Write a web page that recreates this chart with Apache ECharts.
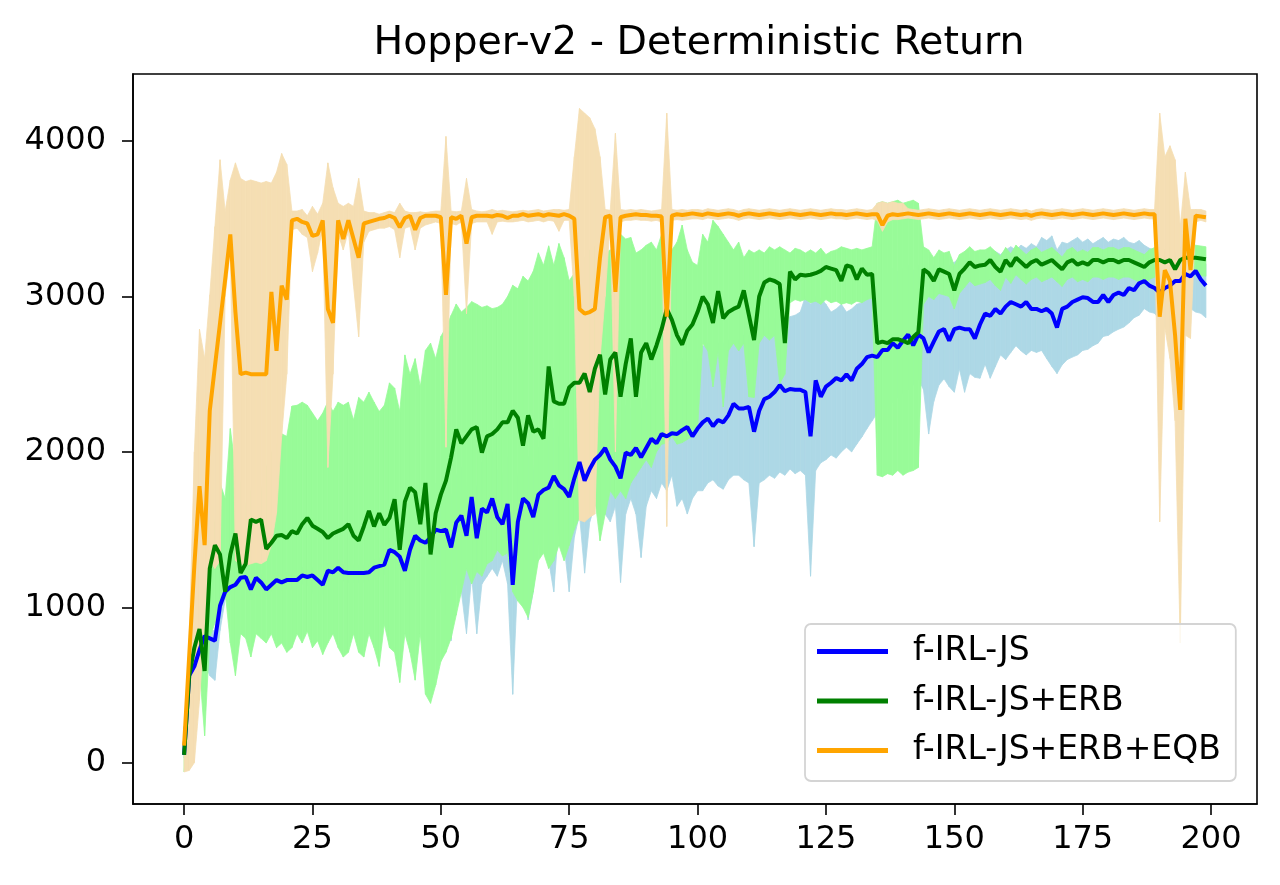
<!DOCTYPE html>
<html>
<head>
<meta charset="utf-8">
<script src="https://cdn.jsdelivr.net/npm/echarts@6/dist/echarts.min.js"></script>
<style>
  html, body { margin: 0; padding: 0; background: #fff; }
  #main { width: 1280px; height: 885px; }
</style>
</head>
<body>
<div id="main"></div>
<script>
// training iterations 0..199
var steps = [];
for (var s = 0; s < 200; s++) steps.push(s);

var xTicks = [0, 25, 50, 75, 100, 125, 150, 175, 200];
var yTicks = [0, 1000, 2000, 3000, 4000];

// f-IRL-JS
var jsMean = [
    50, 560, 620, 725, 815, 800, 785, 1010, 1100, 1130,
    1145, 1190, 1195, 1115, 1190, 1160, 1115, 1145, 1175, 1160,
    1175, 1175, 1175, 1205, 1195, 1205, 1175, 1145, 1235, 1225,
    1255, 1225, 1220, 1220, 1220, 1220, 1225, 1255, 1265, 1275,
    1370, 1355, 1325, 1235, 1370, 1460, 1430, 1415, 1450, 1500,
    1490, 1500, 1385, 1545, 1590, 1460, 1710, 1445, 1635, 1610,
    1700, 1580, 1535, 1665, 1145, 1550, 1700, 1670, 1580, 1725,
    1755, 1770, 1845, 1785, 1760, 1710, 1830, 1935, 1815, 1890,
    1950, 1980, 2025, 1950, 1905, 1830, 1995, 1980, 2025, 1965,
    2025, 2085, 2055, 2115, 2100, 2120, 2115, 2140, 2160, 2100,
    2150, 2190, 2215, 2165, 2205, 2190, 2235, 2310, 2280, 2280,
    2290, 2130, 2265, 2340, 2355, 2385, 2430, 2390, 2405, 2400,
    2400, 2385, 2100, 2460, 2355, 2420, 2445, 2475, 2460, 2500,
    2460, 2535, 2565, 2610, 2620, 2610, 2655, 2655, 2700, 2670,
    2715, 2755, 2685, 2755, 2730, 2640, 2710, 2775, 2790, 2715,
    2790, 2800, 2790, 2790, 2730, 2820, 2890, 2875, 2920, 2890,
    2935, 2965, 2950, 2935, 2965, 2920, 2920, 2905, 2920, 2890,
    2800, 2920, 2935, 2965, 2980, 2995, 2990, 2965, 2965, 3010,
    2965, 3010, 3025, 3010, 3055, 3040, 3085, 3100, 3070, 3055,
    3025, 3055, 3070, 3100, 3100, 3145, 3130, 3165, 3110, 3070
];
var jsLow = [
    30, 480, 540, 620, 650, 560, 530, 850, 1050, 1080,
    1100, 1140, 1150, 1070, 1140, 1110, 1070, 1100, 1120, 1110,
    1120, 1120, 1120, 1150, 1140, 1100, 1020, 1090, 1180, 1170,
    1200, 1170, 1160, 1160, 1160, 1160, 1170, 1200, 1200, 1210,
    1300, 1290, 1250, 1170, 1300, 1380, 1350, 1300, 900, 1000,
    1100, 950, 785, 1150, 1100, 830, 1200, 830, 1150, 1200,
    1250, 1200, 1300, 1150, 440, 1200, 1300, 920, 1100, 1400,
    1500, 1300, 1100, 1550, 1400, 1100, 1450, 1600, 1220, 1550,
    1650, 1700, 1600, 1550, 1650, 1160, 1600, 1700, 1600, 1320,
    1650, 1750, 1700, 1800, 1750, 1850, 1650, 1700, 1600, 1700,
    1750, 1750, 1800, 1820, 1780, 1760, 1820, 1850, 1850, 1820,
    1800, 1390, 1800, 1820, 1850, 1830, 1870, 1850, 1890, 1860,
    1880, 1850, 1200, 1880, 1930, 1950, 1980, 1960, 2000, 2030,
    2000, 2050, 2096, 2150, 2200, 2250, 2280, 2300, 2320, 2350,
    2380, 2400, 2430, 2470, 2400, 2115, 2325, 2430, 2470, 2420,
    2384, 2534, 2384, 2504, 2480, 2474, 2564, 2474, 2550, 2624,
    2594, 2640, 2683, 2650, 2624, 2653, 2640, 2653, 2600, 2550,
    2504, 2560, 2594, 2610, 2624, 2653, 2660, 2683, 2700, 2743,
    2750, 2773, 2790, 2803, 2830, 2863, 2880, 2922, 2900, 2892,
    2850, 2803, 2860, 2922, 2950, 2982, 2922, 2900, 2892, 2863
];
var jsHigh = [
    70, 620, 700, 800, 880, 850, 850, 1070, 1150, 1180,
    1195, 1240, 1245, 1165, 1240, 1210, 1165, 1195, 1225, 1210,
    1225, 1225, 1225, 1255, 1245, 1255, 1225, 1195, 1285, 1275,
    1305, 1275, 1270, 1270, 1270, 1270, 1275, 1305, 1315, 1325,
    1440, 1420, 1400, 1320, 1450, 1550, 1520, 1500, 1750, 1800,
    1790, 1800, 1700, 1850, 1900, 1760, 2010, 1750, 1935, 1910,
    2000, 1880, 1850, 1970, 1500, 1850, 2000, 1970, 1880, 2030,
    2060, 2070, 2150, 2090, 2060, 2010, 2130, 2240, 2120, 2190,
    2250, 2280, 2330, 2250, 2200, 2130, 2300, 2280, 2330, 2270,
    2330, 2400, 2450, 2400, 2500, 2550, 2500, 2600, 2580, 2620,
    2600, 2680, 2700, 2680, 2700, 2700, 2720, 2720, 2720, 2750,
    2750, 2700, 2780, 2800, 2860, 2860, 2850, 2850, 2870, 2880,
    2900, 3000, 2950, 3000, 2990, 2950, 2900, 2920, 2950, 2900,
    2920, 2950, 2960, 3000, 3050, 3150, 3170, 3150, 3180, 3160,
    3180, 3200, 3170, 3200, 3180, 3150, 3200, 3220, 3240, 3200,
    3220, 3250, 3230, 3250, 3220, 3260, 3280, 3260, 3290, 3270,
    3300, 3320, 3300, 3330, 3310, 3340, 3320, 3380, 3360, 3390,
    3300, 3350, 3340, 3360, 3380, 3350, 3370, 3340, 3360, 3380,
    3350, 3370, 3360, 3380, 3350, 3340, 3360, 3330, 3310, 3300,
    3280, 3290, 3270, 3280, 3300, 3260, 3250, 3240, 3230, 3210
];

// f-IRL-JS+ERB
var erbMean = [
    50, 560, 740, 860, 590, 1250, 1400, 1340, 1100, 1340,
    1475, 1220, 1280, 1565, 1550, 1565, 1375, 1415, 1460, 1465,
    1445, 1490, 1475, 1535, 1575, 1525, 1505, 1485, 1445, 1475,
    1490, 1505, 1535, 1460, 1430, 1520, 1620, 1520, 1605, 1530,
    1575, 1695, 1370, 1680, 1770, 1740, 1535, 1800, 1340, 1605,
    1725, 1815, 1965, 2145, 2055, 2100, 2145, 2160, 1995, 2100,
    2115, 2145, 2190, 2190, 2265, 2220, 2040, 2235, 2130, 2145,
    2085, 2550, 2325, 2310, 2310, 2415, 2445, 2445, 2505, 2385,
    2535, 2625, 2370, 2595, 2640, 2355, 2565, 2730, 2355, 2640,
    2700, 2595, 2685, 2790, 2920, 2850, 2750, 2690, 2780, 2820,
    2900, 3000, 2950, 2830, 3035, 2860, 2900, 2920, 2935, 3040,
    2880, 2720, 3000, 3090, 3110, 3100, 3080, 2700, 3160, 3110,
    3140, 3135, 3140, 3150, 3165, 3190, 3180, 3170, 3100, 3200,
    3190, 3110, 3180, 3140, 3145, 2700, 2710, 2700, 2725, 2725,
    2715, 2700, 2740, 2770, 3175, 3150, 3100, 3175, 3160, 3145,
    3040, 3145, 3180, 3220, 3190, 3200, 3205, 3235, 3190, 3160,
    3235, 3195, 3250, 3220, 3190, 3220, 3235, 3205, 3220, 3235,
    3205, 3175, 3220, 3235, 3205, 3220, 3205, 3235, 3235, 3220,
    3235, 3235, 3220, 3235, 3235, 3220, 3205, 3190, 3220, 3235,
    3235, 3220, 3235, 3175, 3235, 3250, 3250, 3250, 3245, 3240
];
var erbLow = [
    -60, 300, 450, 600, 173, 800, 900, 1000, 1100, 770,
    560, 830, 800, 680, 830, 800, 770, 830, 740, 770,
    710, 740, 830, 770, 845, 740, 785, 696, 770, 830,
    740, 680, 710, 830, 710, 680, 830, 740, 620, 890,
    740, 710, 516, 830, 710, 531, 830, 441, 382, 500,
    651, 711, 800, 950, 1100, 1249, 1150, 1230, 1200, 1279,
    1300, 1368, 1330, 1350, 1100, 1040, 1000, 935, 1100, 1300,
    1350, 1250, 1300, 1400, 1300, 1400, 1500, 1577, 1650, 1600,
    1700, 1428, 1600, 1750, 1700, 1750, 1700, 1800, 1850, 1900,
    1950, 1900, 2000, 2050, 2055, 2100, 2050, 2060, 2080, 2100,
    2150, 2700, 2650, 2420, 2650, 2290, 2650, 2700, 2650, 2700,
    2355, 2350, 2700, 2750, 2720, 2750, 2440, 2500, 2960, 2980,
    2970, 2980, 2960, 2970, 2950, 2980, 2960, 2970, 2950, 2960,
    2950, 2970, 2960, 2980, 2990, 1850, 1840, 1860, 1850, 1880,
    1850, 1870, 1880, 1900, 2950, 3000, 2980, 3020, 3010, 3000,
    2920, 3020, 3060, 3100, 3070, 3080, 3090, 3110, 3070, 3040,
    3125, 3085, 3140, 3110, 3080, 3110, 3125, 3095, 3110, 3125,
    3095, 3065, 3110, 3125, 3095, 3110, 3095, 3125, 3125, 3110,
    3125, 3125, 3110, 3125, 3125, 3110, 3095, 3080, 3110, 3125,
    3125, 3110, 3125, 3065, 3125, 3140, 3140, 3140, 3135, 3130
];
var erbHigh = [
    50, 650, 850, 1000, 1100, 1350, 1550, 1800, 1700, 2150,
    1900, 1800, 1650, 1750, 1950, 1750, 1900, 2000, 2050, 2116,
    2100, 2295, 2300, 2320, 2300, 2250, 2200, 2250, 2324, 2260,
    2320, 2300, 2320, 2205, 2350, 2320, 2384, 2320, 2260, 2300,
    2444, 2410, 2260, 2624, 2500, 2600, 2420, 2653, 2700, 2600,
    2743, 2800, 2878, 2952, 2900, 2930, 2967, 2950, 2930, 2940,
    2922, 2930, 2950, 3000, 3072, 3050, 3130, 3100, 3162, 3281,
    3200, 3326, 3200, 3341, 3250, 3102, 3150, 3200, 3250, 3300,
    3320, 3300, 3280, 3300, 3280, 3401, 3370, 3380, 3280, 3300,
    3330, 3350, 3300, 3400, 3250, 3300, 3350, 3460, 3300, 3220,
    3200, 3400, 3350, 3490, 3450, 3400, 3350, 3300, 3350, 3250,
    3300, 3280, 3300, 3280, 3320, 3300, 3320, 3300, 3280, 3310,
    3300, 3280, 3300, 3280, 3310, 3270, 3290, 3300, 3320, 3310,
    3300, 3310, 3300, 3310, 3320, 3600, 3610, 3600, 3610, 3620,
    3600, 3610, 3620, 3600, 3320, 3300, 3250, 3300, 3280, 3290,
    3200, 3270, 3290, 3320, 3290, 3300, 3300, 3320, 3290, 3260,
    3315, 3275, 3330, 3300, 3270, 3300, 3315, 3285, 3300, 3315,
    3285, 3255, 3300, 3315, 3285, 3300, 3285, 3315, 3315, 3300,
    3315, 3315, 3300, 3315, 3315, 3300, 3285, 3270, 3300, 3315,
    3315, 3300, 3315, 3255, 3315, 3330, 3330, 3330, 3325, 3320
];

// f-IRL-JS+ERB+EQB
var eqbMean = [
    110, 690, 1270, 1780, 1400, 2265, 2550, 2830, 3110, 3400,
    2900, 2500, 2510, 2500, 2500, 2500, 2500, 3030, 2650, 3070,
    2980, 3490, 3500, 3480, 3470, 3390, 3400, 3490, 2920, 2830,
    3490, 3370, 3490, 3370, 3250, 3470, 3480, 3490, 3500, 3505,
    3520, 3505, 3445, 3505, 3520, 3430, 3505, 3520, 3520, 3520,
    3510, 3010, 3510, 3500, 3520, 3340, 3510, 3520, 3520, 3520,
    3515, 3525, 3520, 3505, 3520, 3520, 3530, 3520, 3525, 3530,
    3520, 3530, 3525, 3520, 3530, 3520, 3500, 2920, 2890, 2900,
    2920, 3250, 3510, 3520, 3030, 3510, 3520, 3525, 3530, 3525,
    3525, 3520, 3520, 3515, 2870, 3520, 3530, 3525, 3530, 3535,
    3530, 3525, 3535, 3530, 3525, 3530, 3535, 3530, 3520, 3530,
    3535, 3530, 3525, 3530, 3535, 3530, 3525, 3530, 3535, 3530,
    3525, 3530, 3535, 3530, 3525, 3530, 3535, 3530, 3530, 3525,
    3530, 3535, 3530, 3525, 3530, 3530, 3460, 3520, 3530, 3525,
    3530, 3535, 3530, 3525, 3530, 3535, 3530, 3525, 3530, 3535,
    3530, 3525, 3530, 3535, 3530, 3525, 3530, 3535, 3530, 3525,
    3530, 3535, 3530, 3525, 3530, 3520, 3530, 3535, 3530, 3525,
    3530, 3535, 3530, 3525, 3530, 3535, 3530, 3525, 3530, 3535,
    3530, 3525, 3530, 3535, 3530, 3525, 3530, 3535, 3530, 3530,
    2870, 3170, 3100, 2750, 2270, 3500, 3170, 3520, 3515, 3510
];
var eqbLow = [
    -60, -50, 0, 400, 900, 1300, 1250, 1300, 3000, 3300,
    1300, 1280, 1270, 1280, 1290, 1280, 1300, 1400, 1607, 2100,
    2500, 3430, 3440, 3400, 3380, 3160, 3280, 3440, 1900, 2500,
    3400, 3300, 3420, 3070, 2740, 3350, 3420, 3430, 3440, 3440,
    3450, 3430, 3250, 3440, 3450, 3300, 3440, 3460, 3470, 3480,
    3470, 2030, 3470, 3460, 3480, 2890, 3470, 3480, 3480, 3480,
    3400, 3480, 3485, 3480, 3480, 3485, 3490, 3480, 3485, 3490,
    3480, 3490, 3485, 3420, 3490, 3490, 3000, 1560, 1550, 1580,
    1600, 2600, 3000, 3480, 2000, 3480, 3490, 3490, 3495, 3490,
    3490, 3485, 3490, 3480, 1520, 3490, 3495, 3490, 3495, 3500,
    3500, 3495, 3505, 3500, 3495, 3500, 3505, 3500, 3490, 3500,
    3505, 3500, 3495, 3500, 3505, 3500, 3495, 3500, 3505, 3500,
    3495, 3500, 3505, 3500, 3495, 3500, 3505, 3500, 3500, 3495,
    3500, 3505, 3500, 3495, 3500, 3490, 3420, 3480, 3495, 3495,
    3500, 3505, 3500, 3495, 3500, 3505, 3500, 3495, 3500, 3505,
    3500, 3495, 3500, 3505, 3500, 3495, 3500, 3505, 3500, 3495,
    3500, 3505, 3500, 3495, 3500, 3490, 3500, 3505, 3500, 3495,
    3500, 3505, 3500, 3495, 3500, 3505, 3500, 3495, 3500, 3505,
    3500, 3495, 3500, 3505, 3500, 3495, 3500, 3505, 3500, 3500,
    1550, 2800, 2600, 2200, 770, 2750, 2730, 3480, 3490, 3480
];
var eqbHigh = [
    120, 800, 2000, 2790, 2600, 3010, 3450, 3880, 3550, 3750,
    3860, 3760, 3740, 3750, 3740, 3730, 3740, 3730, 3800, 3920,
    3850, 3550, 3550, 3560, 3520, 3580, 3530, 3600, 3860, 3700,
    3600, 3580, 3600, 3580, 3760, 3550, 3540, 3540, 3530, 3540,
    3550, 3540, 3600, 3550, 3540, 3540, 3545, 3540, 3545, 3550,
    3550, 4030, 3550, 3545, 3550, 3760, 3560, 3550, 3545, 3550,
    3560, 3550, 3555, 3550, 3545, 3550, 3555, 3550, 3555, 3560,
    3550, 3555, 3560, 3560, 3555, 3560, 3900, 4210, 4180, 4150,
    4080, 3900, 3560, 3555, 4050, 3560, 3555, 3560, 3555, 3560,
    3555, 3550, 3555, 3560, 4180, 3560, 3555, 3560, 3555, 3560,
    3560, 3555, 3565, 3560, 3555, 3560, 3565, 3560, 3550, 3560,
    3565, 3560, 3555, 3560, 3565, 3560, 3555, 3560, 3565, 3560,
    3555, 3560, 3565, 3560, 3555, 3560, 3565, 3560, 3560, 3555,
    3560, 3565, 3560, 3555, 3560, 3600, 3610, 3600, 3610, 3600,
    3600, 3565, 3560, 3555, 3560, 3565, 3560, 3555, 3560, 3565,
    3560, 3555, 3560, 3565, 3560, 3555, 3560, 3565, 3560, 3555,
    3560, 3565, 3560, 3555, 3560, 3550, 3560, 3565, 3560, 3555,
    3560, 3565, 3560, 3555, 3560, 3565, 3560, 3555, 3560, 3565,
    3560, 3555, 3560, 3565, 3560, 3555, 3560, 3565, 3560, 3560,
    4180, 3900, 3970, 3880, 3450, 3800, 3560, 3560, 3560, 3550
];

var font = 'DejaVu Sans';

function pairs(vals) {
    return steps.map(function (x, i) { return [x, vals[i]]; });
}

// shaded band: one quad per step, mapped through the axes with api.coord
function band(id, low, high, color) {
    var segs = [];
    for (var i = 0; i < steps.length - 1; i++) {
        segs.push([steps[i], low[i], high[i], steps[i + 1], low[i + 1], high[i + 1]]);
    }
    return {
        name: id,
        type: 'custom',
        silent: true,
        z: 1,
        data: segs,
        encode: { x: [0, 3], y: [1, 2, 4, 5] },
        renderItem: function (params, api) {
            var pts = [
                api.coord([api.value(0), api.value(2)]),
                api.coord([api.value(3), api.value(5)]),
                api.coord([api.value(3), api.value(4)]),
                api.coord([api.value(0), api.value(1)])
            ];
            return {
                type: 'polygon',
                shape: { points: pts },
                style: { fill: color, stroke: color, lineWidth: 0.8 }
            };
        }
    };
}

function meanLine(name, vals, color) {
    return {
        name: name,
        type: 'line',
        data: pairs(vals),
        symbol: 'none',
        lineStyle: { color: color, width: 4 },
        itemStyle: { color: color },
        z: 3
    };
}

var chart = echarts.init(document.getElementById('main'));

var option = {
    animation: false,
    backgroundColor: '#ffffff',
    title: {
        text: 'Hopper-v2 - Deterministic Return',
        left: 694,
        top: 19,
        textAlign: 'center',
        textStyle: { fontFamily: font, fontSize: 39.5, fontWeight: 'normal', color: '#000' }
    },
    grid: {
        left: 133, right: 23, top: 74, bottom: 81,
        show: true, borderColor: '#000', borderWidth: 1.6
    },
    legend: {
        data: ['f-IRL-JS', 'f-IRL-JS+ERB', 'f-IRL-JS+ERB+EQB'],
        orient: 'vertical',
        left: 805,
        top: 624,
        icon: 'rect',
        itemWidth: 71,
        itemHeight: 5,
        itemGap: 16.5,
        padding: [11, 15, 14, 12],
        borderColor: '#d4d4d4',
        borderWidth: 1.8,
        borderRadius: 6,
        backgroundColor: 'rgba(255,255,255,0.8)',
        textStyle: { fontFamily: font, fontSize: 33, color: '#000', lineHeight: 33, padding: [0, 0, 0, 20] }
    },
    xAxis: {
        type: 'value',
        min: -9.95,
        max: 208.95,
        splitLine: { show: false },
        axisLine: { show: true, onZero: false, lineStyle: { color: '#000', width: 1.6 } },
        axisTick: { show: true, length: 11, customValues: xTicks, lineStyle: { color: '#000', width: 1.6 } },
        axisLabel: { customValues: xTicks, margin: 20, fontFamily: font, fontSize: 32, color: '#000' }
    },
    yAxis: {
        type: 'value',
        min: -266,
        max: 4432,
        splitLine: { show: false },
        axisLine: { show: true, onZero: false, lineStyle: { color: '#000', width: 1.6 } },
        axisTick: { show: true, length: 11, customValues: yTicks, lineStyle: { color: '#000', width: 1.6 } },
        axisLabel: {
            customValues: yTicks, margin: 27, fontFamily: font, fontSize: 32, color: '#000',
            formatter: function (v) { return String(v); }
        }
    },
    series: [
        band('js-band', jsLow, jsHigh, '#add8e6'),
        band('erb-band', erbLow, erbHigh, '#98fb98'),
        band('eqb-band', eqbLow, eqbHigh, '#f5deb3'),
        meanLine('f-IRL-JS', jsMean, '#0000ff'),
        meanLine('f-IRL-JS+ERB', erbMean, '#008000'),
        meanLine('f-IRL-JS+ERB+EQB', eqbMean, '#ffa500')
    ]
};

chart.setOption(option);

window.onresize = chart.resize;
</script>
</body>
</html>
